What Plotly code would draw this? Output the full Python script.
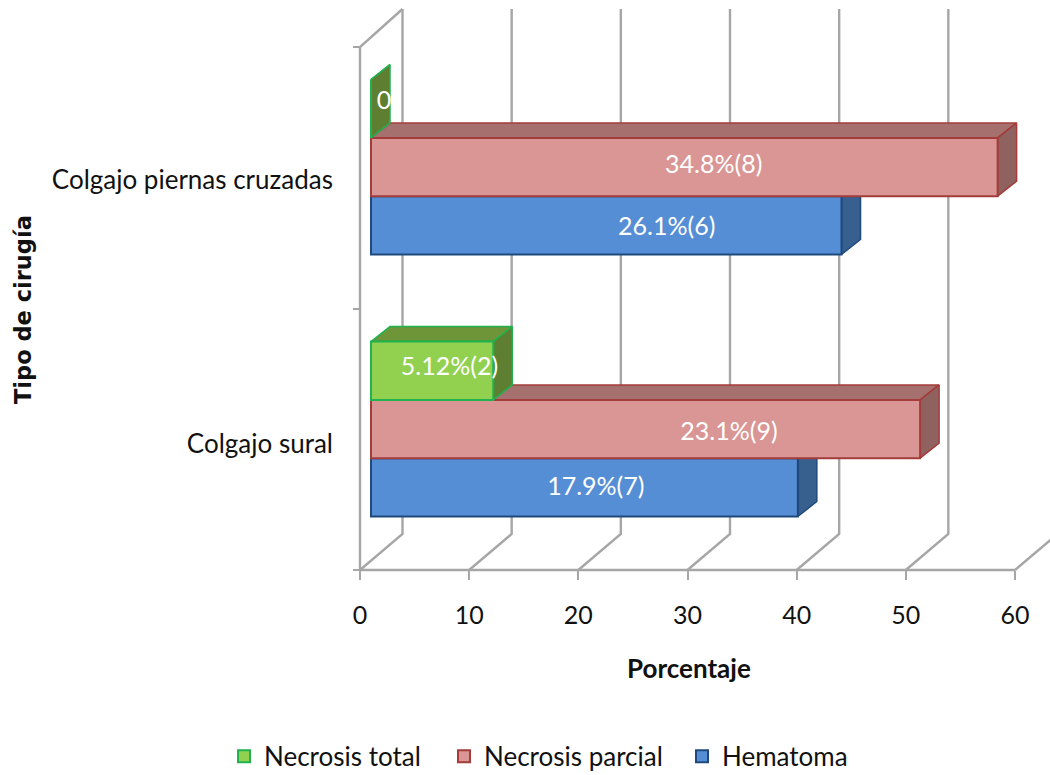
import plotly.graph_objects as go

CATEGORIES = ["Colgajo sural", "Colgajo piernas cruzadas"]
HEMATOMA = [39.1, 43.1]
NECROSIS_PARCIAL = [50.3, 57.4]
NECROSIS_TOTAL = [11.2, 0]
LABELS_HEMATOMA = ["17.9%(7)", "26.1%(6)"]
LABELS_PARCIAL = ["23.1%(9)", "34.8%(8)"]
LABELS_TOTAL = ["5.12%(2)", "0"]
X_TICKS = [0, 10, 20, 30, 40, 50, 60]

# Page geometry
W, H = 1050, 775
PX_X0, PX_X60 = 360.0, 1015.0
PX_Y0, PX_Y2 = 570.0, 47.0
UX = (PX_X60 - PX_X0) / 60
UY = (PX_Y0 - PX_Y2) / 2
BASE = 11 / UX
BAR_H = 58.3 / UY
CAT_Y = [0.539, 1.541]
DX, DY = 19 / UX, 15 / UY
WALL_DX, WALL_DY = 42.5 / UX, 36 / UY
WALL_TOP = (PX_Y0 - 9) / UY
GRID = "#A6A6A6"
TEXT = "#111111"
FONT = "Lato"

# name, values, labels, slot, front, edge, top, side, label x (data), label y shift (px), legend width
SERIES = [
    ("Hematoma", HEMATOMA, LABELS_HEMATOMA, -1, "#558ED5", "#1F497D", "#4A74A8", "#37608F", [21.6, 28.1], [1, 3], 130),
    ("Necrosis parcial", NECROSIS_PARCIAL, LABELS_PARCIAL, 0, "#D99694", "#A33C3A", "#A5706E", "#8F6260", [33.8, 32.4], [5, 0], 193),
    ("Necrosis total", NECROSIS_TOTAL, LABELS_TOTAL, 1, "#92D050", "#1FB24E", "#6F9539", "#5E7F32", [8.2, 2.2], [-2, -6], 175),
]

fig = go.Figure()

# 3-D frame: floor and wall lines
gx, gy = [], []
for t in X_TICKS:
    gx += [t, t + WALL_DX] + ([t + WALL_DX, None] if t < 60 else [None])
    gy += [0, WALL_DY] + ([WALL_TOP, None] if t < 60 else [None])
gx += [0, 60, None, 0, 0, WALL_DX]
gy += [0, 0, None, 0, 2, WALL_TOP]
fig.add_trace(go.Scatter(x=gx, y=gy, mode="lines", line=dict(color=GRID, width=2.4),
                         showlegend=False, hoverinfo="skip", zorder=0))

# Paint order as in the picture: hematoma, then parcial, then total
z = 1
for name, vals, labels, slot, front, edge, top, side, _, _, leg_w in SERIES:
    ys = [c + slot * BAR_H for c in CAT_Y]
    for v, y in zip(vals, ys):
        right = BASE + v
        lo, hi = y - BAR_H / 2, y + BAR_H / 2
        fig.add_trace(go.Scatter(
            x=[BASE, BASE + DX, right + DX, right, BASE], y=[hi, hi + DY, hi + DY, hi, hi],
            mode="lines", fill="toself", fillcolor=top, line=dict(color=edge, width=1.5),
            showlegend=False, hoverinfo="skip", zorder=z))
        fig.add_trace(go.Scatter(
            x=[right, right + DX, right + DX, right, right], y=[hi, hi + DY, lo + DY, lo, hi],
            mode="lines", fill="toself", fillcolor=side, line=dict(color=edge, width=1.5),
            showlegend=False, hoverinfo="skip", zorder=z))
    z += 1
    fig.add_trace(go.Bar(x=vals, y=ys, base=BASE, width=BAR_H, orientation="h", name=name,
                         marker=dict(color=front, line=dict(color=edge, width=2)),
                         legendwidth=leg_w, zorder=z))
    z += 1

# Data labels (placed as in the picture, not centred on the bars)
for name, vals, labels, slot, front, edge, top, side, lab_x, lab_dy, _ in SERIES:
    ys = [c + slot * BAR_H - d / UY for c, d in zip(CAT_Y, lab_dy)]
    fig.add_trace(go.Scatter(x=lab_x, y=ys, mode="text", text=labels, textposition="middle center",
                             textfont=dict(family=FONT, size=25, color="white"),
                             showlegend=False, hoverinfo="skip", zorder=20))

fig.update_layout(
    width=W, height=H, margin=dict(l=0, r=0, t=0, b=0, autoexpand=False),
    paper_bgcolor="white", plot_bgcolor="white", barmode="overlay",
    font=dict(family=FONT, size=24, color=TEXT),
    xaxis=dict(domain=[0, 1], range=[-PX_X0 / UX, (W - PX_X0) / UX], anchor="free",
               position=(H - PX_Y0) / H, tickmode="array", tickvals=X_TICKS, ticks="outside",
               ticklen=9, tickwidth=2, tickcolor=GRID, showgrid=False, zeroline=False,
               showline=False, ticklabelstandoff=14, tickfont=dict(size=25)),
    yaxis=dict(domain=[0, 1], range=[-(H - PX_Y0) / UY, PX_Y0 / UY], anchor="free",
               position=PX_X0 / W, tickmode="array", tickvals=[0.482, 1.49], ticktext=CATEGORIES,
               ticks="", ticklabelstandoff=27, showgrid=False, zeroline=False, showline=False,
               tickfont=dict(size=26),
               minor=dict(tickmode="array", tickvals=[0, 1, 2], ticks="outside", ticklen=7,
                          tickwidth=2, tickcolor=GRID, showgrid=False)),
    legend=dict(orientation="h", x=224 / W, xanchor="left", y=0.024, yanchor="middle",
                traceorder="reversed", font=dict(size=26), bgcolor="rgba(0,0,0,0)"),
    annotations=[
        dict(text="<b>Porcentaje</b>", xref="paper", yref="paper", x=689 / W, y=1 - 668 / H,
             xanchor="center", yanchor="middle", showarrow=False,
             font=dict(size=26, color=TEXT)),
        dict(text="<b>Tipo de cirugía</b>", xref="paper", yref="paper", x=23 / W, y=1 - 310 / H,
             xanchor="center", yanchor="middle", textangle=-90, showarrow=False,
             font=dict(family="DejaVu Sans", size=22.5, color=TEXT)),
    ],
)

fig.write_html("out.html", config=dict(displayModeBar=False),
               post_script="document.body.style.margin='0';")
